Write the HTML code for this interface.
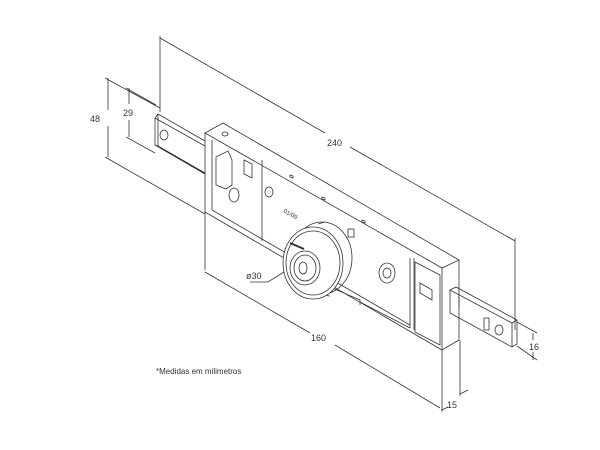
<!DOCTYPE html>
<html><head><style>
html,body{margin:0;padding:0;background:#fff;width:600px;height:450px;overflow:hidden}
svg{display:block}
text{font-family:"Liberation Sans",sans-serif;fill:#333}
</style></head><body>
<svg width="600" height="450" viewBox="0 0 600 450" xmlns="http://www.w3.org/2000/svg">
<g fill="none" stroke="#333" stroke-width="0.8">
<!-- 240 dimension -->
<line x1="160" y1="36" x2="160" y2="112"/>
<line x1="515" y1="238" x2="515" y2="330"/>
<line x1="160" y1="38" x2="325" y2="133"/>
<line x1="350" y1="147" x2="515" y2="241"/>
<!-- 48 / 29 -->
<line x1="108" y1="78" x2="108" y2="110"/>
<line x1="108" y1="126" x2="108" y2="157"/>
<line x1="105" y1="78" x2="160" y2="108"/>
<line x1="105" y1="157" x2="205" y2="214"/>
<line x1="129" y1="88" x2="129" y2="104"/>
<line x1="129" y1="120" x2="129" y2="137"/>
<line x1="126" y1="88" x2="156" y2="105"/>
<line x1="126" y1="137" x2="155" y2="153"/>
<!-- left bolt -->
<path d="M155,118 L158,114 L205,141 M155,118 L155,145 L158,146 L158,114 M155,118 L205,146 M158,146 L205,173 M155,145 L205,174" />
<ellipse cx="164" cy="135" rx="4" ry="5"/>
<!-- box -->
<path d="M205,133 L223,123 L459,260 L442,268 Z"/>
<path d="M205,133 L205,212 L442,350 L442,268"/>
<path d="M442,350 L459,340 L459,260"/>
<line x1="205" y1="270" x2="205" y2="212"/>
<line x1="212" y1="140" x2="212" y2="210"/>
<line x1="212" y1="210" x2="410" y2="325"/>
<line x1="262" y1="160" x2="262" y2="241"/>
<line x1="410" y1="258" x2="410" y2="328"/>
<line x1="414" y1="258" x2="414" y2="330"/>
<path d="M216,157 L228,151 L232,160 L232,185 L226,189 L216,185 Z"/>
<path d="M244,160 L252,164 L252,178 L244,174 Z"/>
<ellipse cx="234" cy="195" rx="5" ry="7"/>
<ellipse cx="269" cy="192" rx="4" ry="5"/>
<ellipse cx="225" cy="134" rx="3" ry="2"/>
<path d="M290,175 l3,1 l0,2 l-3,-1 Z M322,197 l3,1 l0,2 l-3,-1 Z M362,220 l3,1 l0,2 l-3,-1 Z"/>
<rect x="348" y="229" width="6" height="8"/>
<ellipse cx="387" cy="273" rx="8" ry="10"/>
<ellipse cx="387" cy="273" rx="4" ry="5"/>
<path d="M415,262 L440,275 L440,345 L415,332 Z"/>
<path d="M420,283 L432,290 L432,300 L420,293 Z"/>
<path d="M330,287 L360,300 L360,305 M360,302 L410,328"/>
<!-- cylinder -->
<ellipse cx="322" cy="258" rx="30" ry="36"/>
<path d="M318,224 L325,222 M310,294 L330,296"/>
<ellipse cx="313" cy="263" rx="30" ry="36" fill="#fff"/>
<ellipse cx="313" cy="263" rx="27" ry="32"/>
<ellipse cx="305" cy="268" rx="15" ry="17"/>
<ellipse cx="305" cy="268" rx="11" ry="13"/>
<ellipse cx="303" cy="268" rx="4" ry="6"/>
<path d="M290,243 l14,6" stroke-width="2"/>
<!-- ø30 leader -->
<polyline points="250,282 268,282 284,272"/>
<!-- right bolt -->
<path d="M450,290 L456,287 L517,320 L512,323 Z"/>
<path d="M450,290 L450,313 L512,347 L512,323 M512,347 L517,344 L517,320"/>
<rect x="484" y="318" width="5" height="12"/>
<ellipse cx="499" cy="330" rx="4" ry="5"/>
<line x1="459" y1="296" x2="459" y2="306"/>
<!-- 16 -->
<line x1="517" y1="322" x2="537" y2="333"/>
<line x1="517" y1="346" x2="537" y2="360"/>
<line x1="533" y1="333" x2="533" y2="340"/>
<line x1="533" y1="352" x2="533" y2="360"/>
<!-- 160 -->
<line x1="205" y1="272" x2="310" y2="333"/>
<line x1="335" y1="345" x2="440" y2="408"/>
<!-- 15 -->
<line x1="442" y1="350" x2="442" y2="412"/>
<line x1="460" y1="340" x2="460" y2="396"/>
<line x1="442" y1="410" x2="448" y2="407"/>
<line x1="460" y1="394" x2="468" y2="390"/>
</g>
<g font-size="9">
<text x="327" y="146">240</text>
<text x="90" y="122">48</text>
<text x="123" y="116">29</text>
<text x="311" y="341">160</text>
<text x="447" y="408">15</text>
<text x="529" y="350">16</text>
<text x="246" y="279">ø30</text>
<text x="283" y="212" font-size="6" transform="rotate(30 283 212)">01/09</text>
<text x="156" y="374" font-size="8">*Medidas em milimetros</text>
</g>
</svg>
</body></html>
